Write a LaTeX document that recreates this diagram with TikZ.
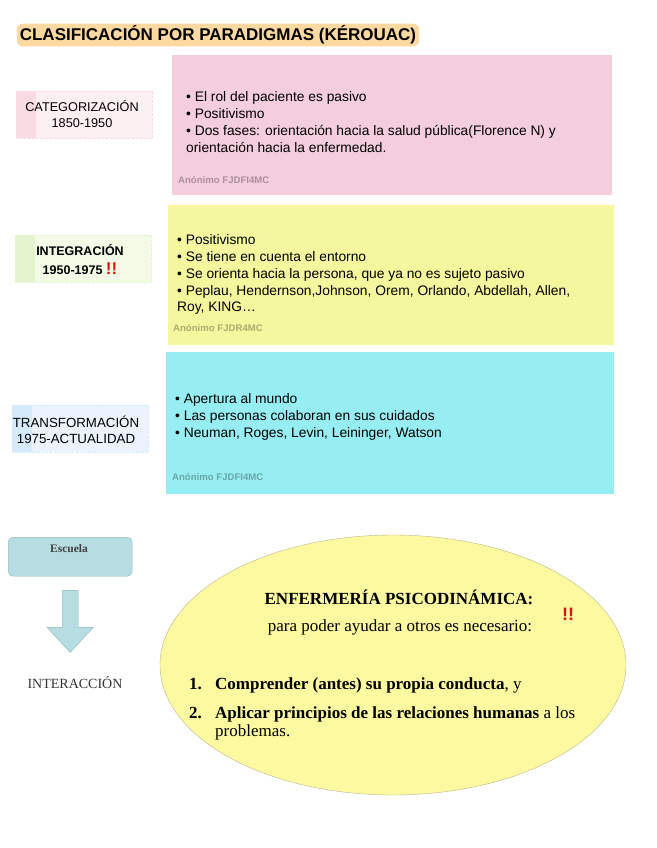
\documentclass[tikz,border=0pt]{standalone}
\usepackage{fontspec}
\setmainfont{Liberation Serif}
\setsansfont{Liberation Sans}
\usetikzlibrary{positioning,shapes.geometric}
\definecolor{titlebg}{HTML}{FDD9A2}
\definecolor{pinkbox}{HTML}{F5CEDE}
\definecolor{yellowbox}{HTML}{F5F79E}
\definecolor{cyanbox}{HTML}{97EEF2}
\definecolor{pinklight}{HTML}{FDF0F3}
\definecolor{pinkstrip}{HTML}{F9DCE3}
\definecolor{greenlight}{HTML}{F3FBE6}
\definecolor{greenstrip}{HTML}{E3F4CF}
\definecolor{bluelight}{HTML}{EBF4FE}
\definecolor{bluestrip}{HTML}{D5EAFB}
\definecolor{escuelafill}{HTML}{B6DDE2}
\definecolor{escuelaline}{HTML}{8FB3B8}
\definecolor{ellipsefill}{HTML}{FCF9A0}
\definecolor{ellipseline}{HTML}{BAB78F}
\definecolor{alertred}{HTML}{E01010}
\tikzset{
  paradigmbox/.style={anchor=north west, inner sep=0pt, minimum width=#1},
  textblock/.style={anchor=north west, inner sep=0pt, align=left,
    font=\sffamily\fontsize{13.8}{16.8}\selectfont},
  watermark/.style={anchor=west, inner sep=0pt, text=black, text opacity=0.3,
    font=\sffamily\bfseries\fontsize{9.6}{11}\selectfont},
  periodlabel/.style={anchor=north west, inner sep=0pt, minimum width=136,
    minimum height=47, fill=#1light, draw=#1strip, densely dotted, line width=0.3pt,
    path picture={\fill[#1strip] (path picture bounding box.north west)
      rectangle ([xshift=20pt]path picture bounding box.south west);}},
  periodtext/.style={align=center, inner sep=0pt,
    font=\sffamily\fontsize{12.7}{16}\selectfont},
  serifbig/.style={font=\fontsize{17}{18}\selectfont, inner sep=0pt}
}
\begin{document}
\begin{tikzpicture}[x=1pt, y=-1pt]
  \useasboundingbox (0,0) rectangle (656,848);

  % title
  \node [fill=titlebg, rounded corners=6, inner xsep=3pt, inner ysep=2pt,
    font=\sffamily\bfseries\fontsize{17}{19}\selectfont] (title) at (218,35)
    {CLASIFICACIÓN POR PARADIGMAS (KÉROUAC)};

  % paradigm boxes
  \node [paradigmbox=440, minimum height=140, fill=pinkbox] (catbox) at (172,55) {};
  \node [paradigmbox=446, minimum height=140, fill=yellowbox] (intbox) at (168,205) {};
  \node [paradigmbox=448, minimum height=142, fill=cyanbox] (trabox) at (166,352) {};

  \node [textblock] (cattext) at (186,91.5) {• El rol del paciente es pasivo\\
    • Positivismo\\
    • Dos fases: orientación hacia la salud pública(Florence N) y\\
    orientación hacia la enfermedad.};
  \node [textblock] (inttext) at (177,234.5) {• Positivismo\\
    • Se tiene en cuenta el entorno\\
    • Se orienta hacia la persona, que ya no es sujeto pasivo\\
    • Peplau, Hendernson,Johnson, Orem, Orlando, Abdellah, Allen,\\
    Roy, KING…};
  \node [textblock] (tratext) at (175,393.5) {• Apertura al mundo\\
    • Las personas colaboran en sus cuidados\\
    • Neuman, Roges, Levin, Leininger, Watson};

  \node [watermark] (catmark) at (178,180) {Anónimo FJDFI4MC};
  \node [watermark] (intmark) at (173,328) {Anónimo FJDR4MC};
  \node [watermark] (tramark) at (172,477) {Anónimo FJDFI4MC};

  % period labels
  \node [periodlabel=pink] (catlabel) at (16,91) {};
  \node [periodlabel=green] (intlabel) at (15,235) {};
  \node [periodlabel=blue] (tralabel) at (12,405) {};
  \node [periodtext] (catname) at (82,114) {CATEGORIZACIÓN\\1850-1950};
  \node [periodtext, font=\sffamily\bfseries\fontsize{12.5}{19}\selectfont] (intname) at (80,260)
    {INTEGRACIÓN\\1950-1975 {\color{alertred}\fontsize{17}{17}\selectfont!!}};
  \node [periodtext, font=\sffamily\fontsize{13.3}{16.5}\selectfont] (traname) at (76,430)
    {TRANSFORMACIÓN\\1975-ACTUALIDAD};

  % escuela
  \node [paradigmbox=124, minimum height=39, fill=escuelafill, draw=escuelaline,
    rounded corners=5] (escuela) at (8,537) {};
  \node [font=\bfseries\fontsize{11.5}{13}\selectfont, text=black!75, inner sep=0pt]
    (escuelatxt) at (69,549) {Escuela};
  \begin{scope}[shift={(escuela.south)}]
    \draw [fill=escuelafill, draw=escuelaline] (-8,14) -- (8,14) -- (8,51) -- (23,51)
      -- (0,76) -- (-23,51) -- (-8,51) -- cycle;
  \end{scope}
  \node [font=\fontsize{14}{16}\selectfont, text=black!80, inner sep=0pt]
    (interaccion) at (75,683) {INTERACCIÓN};

  % enfermeria psicodinamica
  \node [ellipse, fill=ellipsefill, draw=ellipseline, minimum width=466,
    minimum height=260] (psico) at (393,665) {};
  \node [serifbig, font=\bfseries\fontsize{17}{18}\selectfont] (psicotitle) at (399,597)
    {ENFERMERÍA PSICODINÁMICA:};
  \node [serifbig] (psicosub) at (400,627) {para poder ayudar a otros es necesario:};
  \node [font=\sffamily\bfseries\fontsize{18}{18}\selectfont, text=alertred, inner sep=0pt]
    (psicoalert) at (568,614) {!!};
  \node [serifbig, anchor=north west, align=left] (psicolist) at (189,677.5)
    {\makebox[26pt][l]{\textbf{1.}}\textbf{Comprender (antes) su propia conducta}, y\\[11pt]
     \makebox[26pt][l]{\textbf{2.}}\textbf{Aplicar principios de las relaciones humanas} a los\\
     \hspace*{26pt}problemas.};
\end{tikzpicture}
\end{document}
